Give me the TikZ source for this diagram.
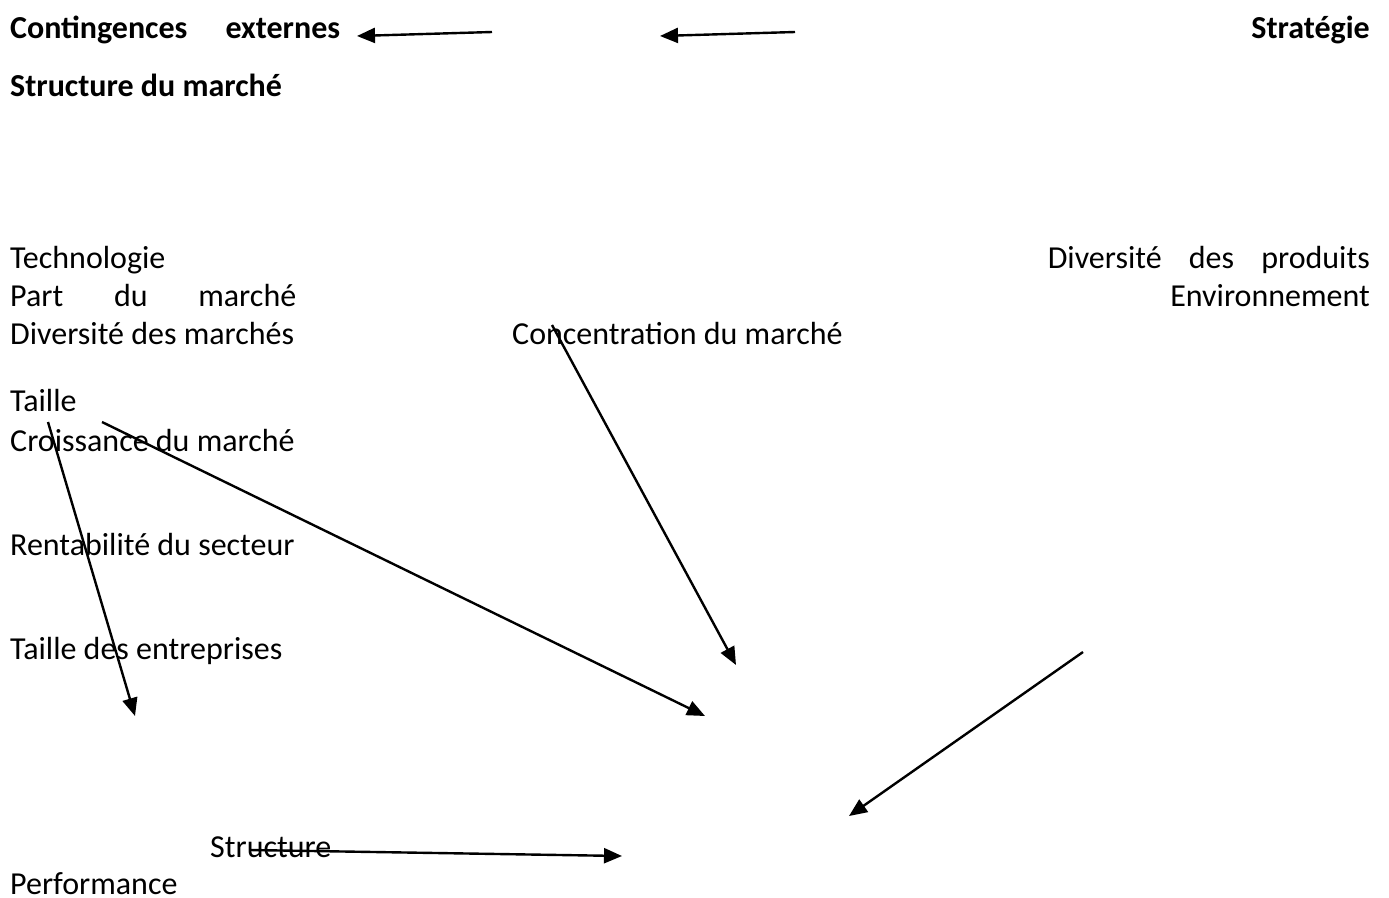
\documentclass[tikz,border=0pt]{standalone}
\usepackage{fontspec}
\setmainfont{Carlito}
\usetikzlibrary{arrows.meta}
\begin{document}
\begin{tikzpicture}[x=1pt,y=-1pt,
  txt/.style={anchor=base west, inner sep=0pt, font=\fontsize{32}{38}\selectfont},
  txtr/.style={anchor=base east, inner sep=0pt, font=\fontsize{32}{38}\selectfont},
  btxt/.style={anchor=base west, inner sep=0pt, font=\fontsize{32}{38}\selectfont\bfseries},
  btxtr/.style={anchor=base east, inner sep=0pt, font=\fontsize{32}{38}\selectfont\bfseries},
  arr/.style={line width=2.4pt, -{Triangle[length=18pt,width=15pt]}}]
\useasboundingbox[fill=white] (0,0) rectangle (1389,897);
% texts
\node[btxt] (ce) at (10,38) {\makebox[330pt][l]{Contingences\hfill externes}};
\node[btxtr] (strat) at (1370,38) {Stratégie};
\node[btxt] (sdm) at (10,96) {Structure du marché};
\node[txt] (tech) at (10,268) {Technologie};
\node[txtr] (dp) at (1370,268) {\makebox[322pt][l]{Diversité\hfill des\hfill produits}};
\node[txt] (pdm) at (10,306) {\makebox[286pt][l]{Part\hfill du\hfill marché}};
\node[txtr] (env) at (1370,306) {Environnement};
\node[txt] (ddm) at (10,344) {Diversité des marchés};
\node[txt] (cdm) at (512,344) {Concentration du marché};
\node[txt] (taille) at (10,411) {Taille};
\node[txt] (croiss) at (10,451) {Croissance du marché};
\node[txt] (rent) at (10,555) {Rentabilité du secteur};
\node[txt] (tde) at (10,659) {Taille des entreprises};
\node[txt] (struct) at (210,857) {Structure};
\node[txt] (perf) at (10,894) {Performance};
% arrow ends
\coordinate (a1s) at (492,32);  \coordinate (a1e) at (357,36);
\coordinate (a2s) at (795,32);  \coordinate (a2e) at (660,36);
\coordinate (b1s) at (48,422);  \coordinate (b1e) at (135,716);
\coordinate (b2s) at (102,422); \coordinate (b2e) at (705,716);
\coordinate (b3s) at (552,325); \coordinate (b3e) at (736,665);
\coordinate (b4s) at (1083,652); \coordinate (b4e) at (849,816);
\coordinate (b5s) at (250,850); \coordinate (b5e) at (622,856);
% arrows
\draw[arr] (a1s) -- (a1e);
\draw[arr] (a2s) -- (a2e);
\draw[arr] (b1s) -- (b1e);
\draw[arr] (b2s) -- (b2e);
\draw[arr] (b3s) -- (b3e);
\draw[arr] (b4s) -- (b4e);
\draw[arr] (b5s) -- (b5e);
\end{tikzpicture}
\end{document}
